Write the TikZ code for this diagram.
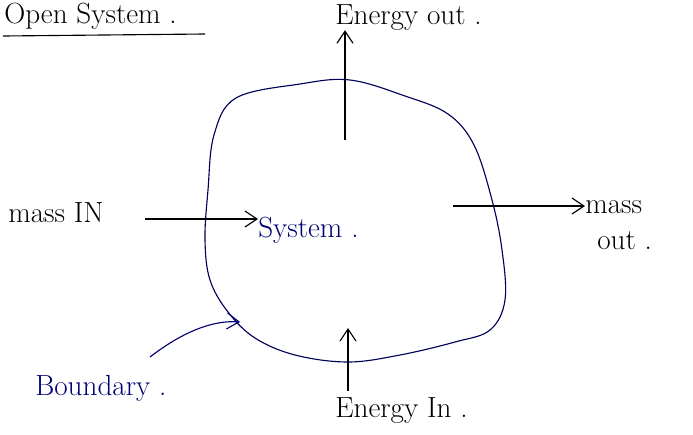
\documentclass[tikz,border=0pt]{standalone}
\usepackage{tikz}
\usetikzlibrary{arrows.meta}

\begin{document}
\begin{tikzpicture}[x=0.025cm, y=-0.025cm,
  label/.style={font=\huge, inner sep=0pt, anchor=base west},
  flow/.style={-{Straight Barb[length=3mm,width=4mm]}, thick},
  wall/.style={draw=blue!35!black, thick}
]
  \useasboundingbox (0,0) rectangle (693,435);

  % heading
  \node[label] (title) at (4,23) {Open System .};
  \draw[thick] (3,36) -- (205,34);

  % the boundary
  \draw[wall] plot[smooth cycle, tension=0.6] coordinates {
    (236,98) (300,84) (350,80) (405,96) (448,114) (474,145)
    (492,200) (502,250) (505,300) (490,330) (455,342)
    (400,355) (348,362) (295,355) (255,338) (228,312)
    (210,280) (205,240) (208,190) (214,135)};

  \node[label, text=blue!45!black] (system) at (258,237) {System .};
  \node[label] (eout) at (335,24) {Energy out .};
  \node[label] (massin) at (8,222) {mass IN};
  \node[label] (massout) at (585,213) {mass};
  \node[label] (out) at (597,249) {out .};
  \node[label] (ein) at (335,417) {Energy In .};
  \node[label, text=blue!45!black] (bnd) at (35,395) {Boundary .};

  \coordinate (eoutfoot) at (345,140);
  \coordinate (massintail) at (145,219);
  \coordinate (massoutfoot) at (453,206);
  \coordinate (einhead) at (348,328);
  \coordinate (bndtail) at (150,357);
  \coordinate (wallpt) at (240,322);

  \draw[flow] (eoutfoot) -- (eout.south west -| eoutfoot);
  \draw[flow] (massintail) -- (system.west |- massintail);
  \draw[flow] (massoutfoot) -- (massout.west |- massoutfoot);
  \draw[flow] (ein.north west -| einhead) ++(0,-6) -- (einhead);
  \draw[flow, blue!45!black] (bndtail) .. controls (185,330)
    and (215,320) .. (wallpt);
\end{tikzpicture}
\end{document}
